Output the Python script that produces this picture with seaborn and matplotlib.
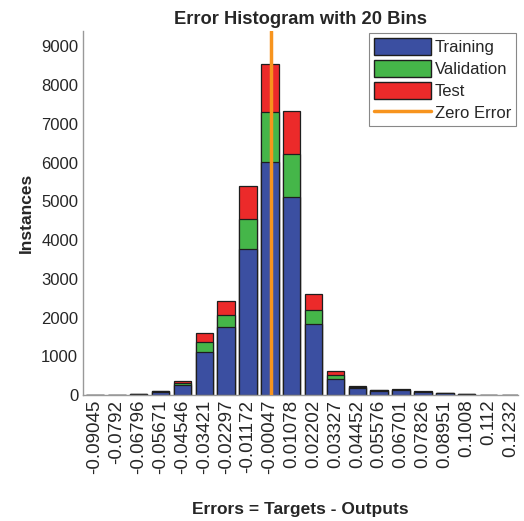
import numpy as np
import pandas as pd
import seaborn as sns
import matplotlib
matplotlib.use("Agg")
import matplotlib.pyplot as plt
from matplotlib.patches import Patch
from matplotlib.lines import Line2D

bin_labels = ["-0.09045", "-0.0792", "-0.06796", "-0.05671", "-0.04546",
              "-0.03421", "-0.02297", "-0.01172", "-0.00047", "0.01078",
              "0.02202", "0.03327", "0.04452", "0.05576", "0.06701",
              "0.07826", "0.08951", "0.1008", "0.112", "0.1232"]
training   = [0, 0, 15, 90, 250, 1105, 1750, 3775, 6010, 5115, 1835, 415, 170, 110, 120, 80, 40, 25, 0, 0]
validation = [0, 0, 3, 10, 67, 258, 310, 775, 1310, 1105, 370, 95, 35, 10, 20, 8, 3, 3, 0, 0]
test       = [0, 0, 2, 10, 52, 248, 370, 835, 1230, 1120, 415, 100, 35, 10, 15, 7, 2, 2, 0, 0]

sns.set_style("white")
plt.rcParams['font.family'] = ['Liberation Sans', 'DejaVu Sans']

df = pd.DataFrame({
    "bin": bin_labels,
    "train": training,
    "train_val": np.array(training) + np.array(validation),
    "total": np.array(training) + np.array(validation) + np.array(test),
})

c_blue = "#3B4FA1"
c_green = "#45B649"
c_red = "#EC2A2A"
c_orange = "#F7941E"
edge = "#1E1E1E"

fig = plt.figure(figsize=(5.24, 5.21), dpi=100)
ax = fig.add_axes([83/524, 1-395/521, (518-83)/524, (395-31)/521])

kw = dict(order=bin_labels, errorbar=None, width=0.8, edgecolor=edge, linewidth=0.9, ax=ax)
sns.barplot(data=df, x="bin", y="total", color=c_red, saturation=1, **kw)
sns.barplot(data=df, x="bin", y="train_val", color=c_green, saturation=1, **kw)
sns.barplot(data=df, x="bin", y="train", color=c_blue, saturation=1, **kw)

centers = np.array([float(s) for s in bin_labels])
zero_pos = np.interp(0.0, centers, np.arange(len(centers)))
ax.axvline(zero_pos, color=c_orange, linewidth=2.5, zorder=5)

ax.set_xlim(-0.55, 19.35)
ax.set_ylim(0, 9400)
ax.set_yticks(np.arange(0, 9001, 1000))
ax.tick_params(axis='y', labelsize=12, direction='in', length=4, color='#888888', labelcolor='#262626')
ax.tick_params(axis='x', labelsize=13.5, direction='in', length=4, color='#888888', labelcolor='#262626',
               rotation=90)
for s in ['top', 'right']:
    ax.spines[s].set_visible(False)
for s in ['left', 'bottom']:
    ax.spines[s].set_color('#999999')
    ax.spines[s].set_linewidth(1.0)

ax.set_title("Error Histogram with 20 Bins", fontsize=13.2, fontweight='bold', color='#262626', pad=5)
ax.set_xlabel("Errors = Targets - Outputs", fontsize=12.5, fontweight='bold', color='#262626', labelpad=20)
ax.set_ylabel("Instances", fontsize=12.5, fontweight='bold', color='#262626', labelpad=5)

handles = [Patch(facecolor=c_blue, edgecolor=edge, label="Training"),
           Patch(facecolor=c_green, edgecolor=edge, label="Validation"),
           Patch(facecolor=c_red, edgecolor=edge, label="Test"),
           Line2D([0], [0], color=c_orange, linewidth=2.5, label="Zero Error")]
leg = ax.legend(handles=handles, loc='upper right', bbox_to_anchor=(1.0, 1.0), fontsize=12,
                handlelength=3.4, handleheight=1.2, labelspacing=0.3, handletextpad=0.25,
                borderpad=0.3, borderaxespad=0.1, frameon=True, fancybox=False,
                edgecolor='#888888', framealpha=1)
leg.get_frame().set_linewidth(0.8)

fig.savefig("out.png", dpi=100)
